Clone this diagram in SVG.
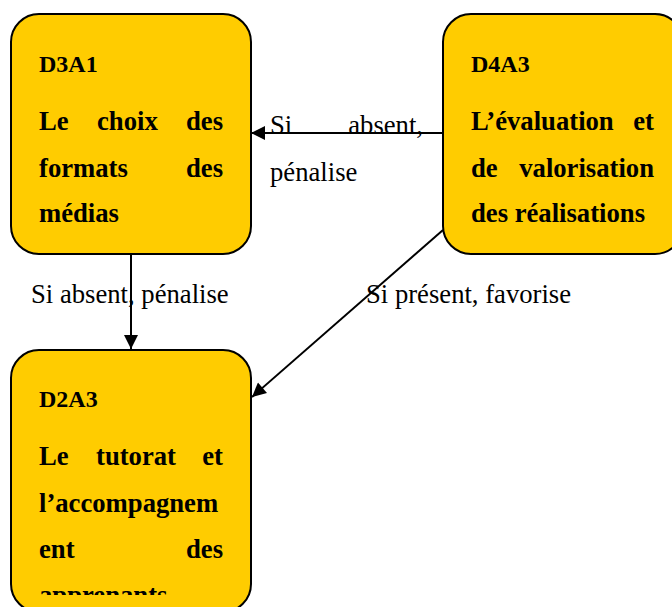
<svg xmlns="http://www.w3.org/2000/svg" width="672" height="607" viewBox="0 0 672 607">
<style>
.box{fill:#FFCC00;stroke:#000;stroke-width:2}
.t{font-family:"Liberation Serif","Times New Roman",serif;font-size:26.67px;font-weight:bold;fill:#000}
.h{font-family:"Liberation Serif","Times New Roman",serif;font-size:24px;font-weight:bold;fill:#000}
.lbl{font-family:"Liberation Serif","Times New Roman",serif;font-size:26.67px;fill:#000}
.e{text-anchor:end}
.c{stroke:#000;stroke-width:2;fill:none}
</style>
<defs>
<marker id="arr" viewBox="0 0 10 10" refX="10" refY="5" markerWidth="15" markerHeight="14" markerUnits="userSpaceOnUse" orient="auto">
<path d="M0,0 L10,5 L0,10 z" fill="#000"/>
</marker>
<clipPath id="clip3"><rect x="11" y="350" width="240" height="245"/></clipPath>
</defs>
<rect width="672" height="607" fill="#fff"/>
<g id="connectors">
<line class="c" x1="443" y1="133" x2="251" y2="133" marker-end="url(#arr)"/>
<line class="c" x1="131" y1="254" x2="131" y2="349" marker-end="url(#arr)"/>
<line class="c" x1="443" y1="230" x2="252" y2="397" marker-end="url(#arr)"/>
<text class="lbl" x="270" y="134">Si</text>
<text class="lbl e" x="423" y="134">absent,</text>
<text class="lbl" x="270" y="181">pénalise</text>
<text class="lbl" x="31" y="303">Si absent, pénalise</text>
<text class="lbl" x="366" y="303">Si présent, favorise</text>
</g>
<g id="D3A1">
<rect class="box" x="11" y="14" width="240" height="240" rx="28" ry="28"/>
<text class="h" x="39" y="72">D3A1</text>
<text class="t" x="39" y="130">Le</text>
<text class="t" x="97" y="130">choix</text>
<text class="t e" x="223" y="130">des</text>
<text class="t" x="39" y="177">formats</text>
<text class="t e" x="223" y="177">des</text>
<text class="t" x="39" y="222">médias</text>
</g>
<g id="D4A3">
<rect class="box" x="443" y="14" width="240" height="240" rx="28" ry="28"/>
<text class="h" x="471" y="72">D4A3</text>
<text class="t" x="471" y="130">L’évaluation</text>
<text class="t e" x="654" y="130">et</text>
<text class="t" x="471" y="177">de</text>
<text class="t e" x="654" y="177">valorisation</text>
<text class="t" x="471" y="222">des réalisations</text>
</g>
<g id="D2A3">
<rect class="box" x="11" y="350" width="240" height="262" rx="28" ry="28"/>
<text class="h" x="39" y="407">D2A3</text>
<text class="t" x="39" y="465">Le</text>
<text class="t" x="96" y="465">tutorat</text>
<text class="t e" x="223" y="465">et</text>
<text class="t" x="39" y="512">l’accompagnem</text>
<text class="t" x="39" y="558">ent</text>
<text class="t e" x="223" y="558">des</text>
<text class="t" x="39" y="604" clip-path="url(#clip3)">apprenants</text>
</g>
</svg>
